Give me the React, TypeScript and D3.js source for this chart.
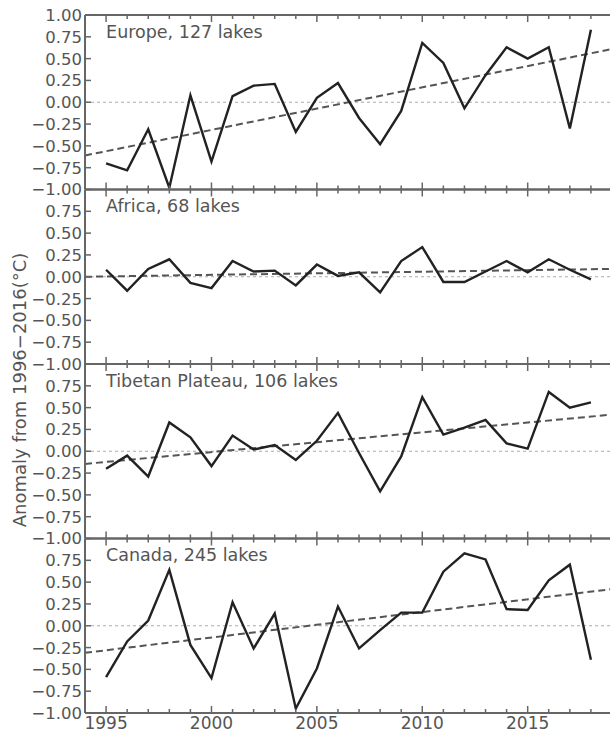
import React from "react";
import * as d3 from "d3";

const years = [1995,1996,1997,1998,1999,2000,2001,2002,2003,2004,2005,2006,2007,2008,2009,2010,2011,2012,2013,2014,2015,2016,2017,2018];
const regions = ["Europe, 127 lakes", "Africa, 68 lakes", "Tibetan Plateau, 106 lakes", "Canada, 245 lakes"];
const europe = [-0.70,-0.78,-0.31,-0.98,0.08,-0.68,0.07,0.19,0.21,-0.34,0.05,0.22,-0.18,-0.48,-0.10,0.68,0.45,-0.07,0.31,0.63,0.50,0.63,-0.30,0.83];
const africa = [0.08,-0.16,0.09,0.20,-0.07,-0.13,0.18,0.06,0.07,-0.10,0.14,0.01,0.05,-0.18,0.18,0.34,-0.06,-0.06,0.06,0.18,0.05,0.20,0.08,-0.03];
const tibet = [-0.20,-0.05,-0.29,0.33,0.16,-0.17,0.18,0.02,0.07,-0.10,0.12,0.44,-0.02,-0.46,-0.06,0.62,0.19,0.27,0.36,0.09,0.03,0.68,0.50,0.56];
const canada = [-0.59,-0.18,0.06,0.64,-0.22,-0.60,0.27,-0.26,0.14,-0.95,-0.49,0.22,-0.26,-0.05,0.15,0.15,0.62,0.83,0.76,0.19,0.18,0.52,0.70,-0.39];
const series = [europe, africa, tibet, canada];
const trendYears = [1994, 2019];
const trendStart = [-0.61, 0.0, -0.145, -0.31];
const trendEnd = [0.61, 0.09, 0.42, 0.42];
const yTicks = [1.0, 0.75, 0.5, 0.25, 0.0, -0.25, -0.5, -0.75, -1.0];
const xMajor = [1995, 2000, 2005, 2010, 2015];
const yLabel = "Anomaly from 1996\u22122016(\u00b0C)";

const W = 610, H = 732;
const left = 85, right = 612, top0 = 15, panelH = 174.5;
const TXT = "#555";
const SPINE = "#666";
const FONT = "DejaVu Sans, sans-serif";

const fmt = (v: number) => {
  const s = v.toFixed(2);
  return s.startsWith("-") ? "\u2212" + s.slice(1) : s;
};

export default function App() {
  const x = d3.scaleLinear().domain([1994, 2019]).range([left, right]);
  return (
    <svg width={W} height={H} style={{ position: "absolute", left: 0, top: 0, background: "#fff" }} fontFamily={FONT}>
      <rect width={W} height={H} fill="#fff" />
      {series.map((vals, i) => {
        const t = top0 + i * panelH;
        const b = t + panelH;
        const y = d3.scaleLinear().domain([-1, 1]).range([b, t]);
        const line = d3.line<number>().x((_, j) => x(years[j])).y((v) => y(v));
        const trend = d3.line<number>().x((_, j) => x(trendYears[j])).y((v) => y(v));
        const ticks = i === 0 ? yTicks : yTicks.slice(1);
        return (
          <g key={i}>
            <line x1={left} x2={right} y1={y(0)} y2={y(0)} stroke="#aaa" strokeWidth={1.2} strokeDasharray="3,3" />
            <path d={trend([trendStart[i], trendEnd[i]]) || ""} fill="none" stroke="#555" strokeWidth={2} strokeDasharray="7,4" />
            <path d={line(vals) || ""} fill="none" stroke="#222" strokeWidth={2.4} strokeLinejoin="miter" />
            <line x1={left} x2={right} y1={t} y2={t} stroke={SPINE} strokeWidth={2} />
            <line x1={left} x2={right} y1={b} y2={b} stroke={SPINE} strokeWidth={2} />
            <line x1={left} x2={left} y1={t} y2={b} stroke={SPINE} strokeWidth={2} />
            {years.map((yr) => {
              const len = xMajor.includes(yr) ? 7 : 4;
              return (
                <g key={yr}>
                  <line x1={x(yr)} x2={x(yr)} y1={b} y2={b - len} stroke={SPINE} strokeWidth={1.5} />
                  <line x1={x(yr)} x2={x(yr)} y1={t} y2={t + len} stroke={SPINE} strokeWidth={1.5} />
                </g>
              );
            })}
            {ticks.map((v) => (
              <g key={v}>
                <line x1={left} x2={left + 6} y1={y(v)} y2={y(v)} stroke={SPINE} strokeWidth={1.5} />
                <text x={left - 3} y={y(v)} dy="0.36em" textAnchor="end" fontSize={16.5} fill={TXT}>{fmt(v)}</text>
              </g>
            ))}
            <text x={x(1995)} y={t + 22.5} fontSize={17.5} fill={TXT}>{regions[i]}</text>
          </g>
        );
      })}
      {xMajor.map((yr) => (
        <text key={yr} x={x(yr)} y={729} textAnchor="middle" fontSize={17} fill={TXT}>{yr}</text>
      ))}
      <text transform={`translate(26,390) rotate(-90)`} textAnchor="middle" fontSize={18} fill={TXT}>{yLabel}</text>
    </svg>
  );
}
